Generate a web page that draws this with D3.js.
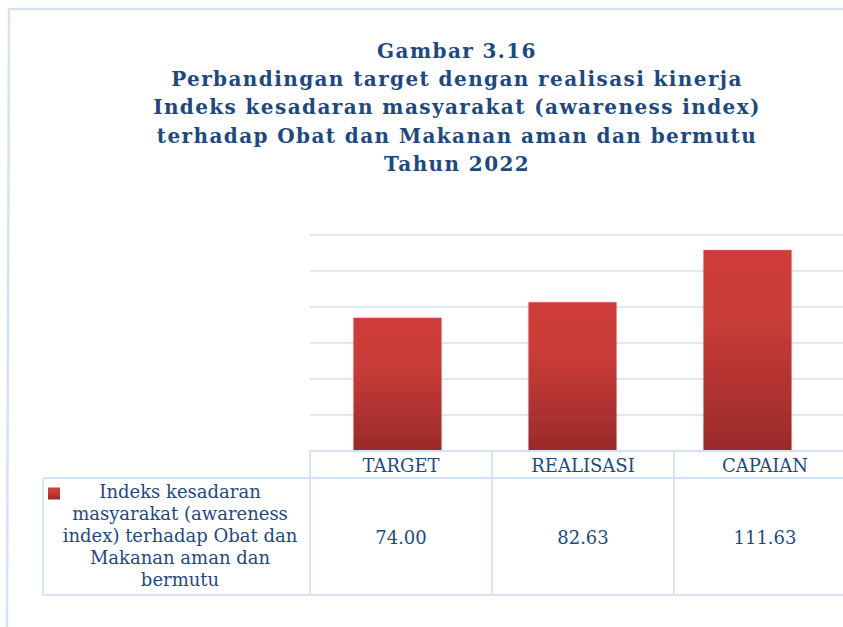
<!DOCTYPE html>
<html>
<head>
<meta charset="utf-8">
<script src="https://cdn.jsdelivr.net/npm/d3@7/dist/d3.min.js"></script>
<style>
  html, body { margin: 0; padding: 0; background: #ffffff; }
  svg { display: block; }
</style>
</head>
<body>
<script>
// ---- data ----
const titleLines = [
  "Gambar 3.16",
  "Perbandingan target dengan realisasi kinerja",
  "Indeks kesadaran masyarakat (awareness index)",
  "terhadap Obat dan Makanan aman dan bermutu",
  "Tahun 2022"
];
const categories = ["TARGET", "REALISASI", "CAPAIAN"];
const values = [74.00, 82.63, 111.63];
const valueLabels = ["74.00", "82.63", "111.63"];
const yTicks = [0, 20, 40, 60, 80, 100, 120];
const seriesLabelLines = [
  "Indeks kesadaran",
  "masyarakat (awareness",
  "index) terhadap Obat dan",
  "Makanan aman dan",
  "bermutu"
];

// ---- setup ----
const W = 843, H = 627;
const textColor = "#1F497D";
const lineColor = "#D5E2F3";
const svg = d3.select("body").append("svg").attr("width", W).attr("height", H);

const defs = svg.append("defs");
const grad = defs.append("linearGradient").attr("id", "barGrad")
  .attr("x1", 0).attr("y1", 0).attr("x2", 0).attr("y2", 1);
grad.append("stop").attr("offset", "0%").attr("stop-color", "#CF3E3A");
grad.append("stop").attr("offset", "35%").attr("stop-color", "#C93C38");
grad.append("stop").attr("offset", "100%").attr("stop-color", "#992A2A");
const shadow = defs.append("filter").attr("id", "shadow")
  .attr("x", "-10%").attr("y", "-10%").attr("width", "120%").attr("height", "120%");
shadow.append("feDropShadow").attr("dx", 0).attr("dy", 0).attr("stdDeviation", 1.3)
  .attr("flood-color", "#808080").attr("flood-opacity", 0.35);

// outer frame
svg.append("path")
  .attr("d", "M7,627 L9,9 L843,9")
  .attr("fill", "none").attr("stroke", lineColor).attr("stroke-width", 2.5);

// title
const title = svg.append("text")
  .attr("text-anchor", "middle")
  .attr("font-family", "'DejaVu Serif', serif")
  .attr("font-weight", "bold")
  .attr("font-size", 20)
  .attr("letter-spacing", 1.4)
  .attr("fill", textColor);
titleLines.forEach((t, i) => {
  title.append("tspan").attr("x", 457).attr("y", 58 + i * 28.2).text(t);
});

// scales
const x = d3.scaleBand().domain(categories).range([310, 835])
  .paddingInner(0.497).paddingOuter(0.2485);
const y = d3.scaleLinear().domain([0, 120]).range([451, 235]);
const tx = d3.scaleBand().domain(categories).range([310, 856]);

// gridlines
svg.append("g").selectAll("line")
  .data(yTicks.filter(d => d > 0))
  .join("line")
  .attr("x1", 310).attr("x2", W)
  .attr("y1", d => y(d)).attr("y2", d => y(d))
  .attr("stroke", lineColor).attr("stroke-width", 1.5);

// bars
svg.append("g").selectAll("rect")
  .data(categories.map((c, i) => ({ c, v: values[i] })))
  .join("rect")
  .attr("x", d => x(d.c))
  .attr("y", d => y(d.v))
  .attr("width", x.bandwidth())
  .attr("height", d => y(0) - y(d.v))
  .attr("fill", "url(#barGrad)")
  .attr("filter", "url(#shadow)");

// data table
const tRowTop = y(0), tRow2 = 478, tBottom = 595, tLeft = 43;
const tg = svg.append("g").attr("stroke", lineColor).attr("stroke-width", 1.8).attr("fill", "none");
tg.append("line").attr("x1", 310).attr("x2", W).attr("y1", tRowTop).attr("y2", tRowTop);
tg.append("line").attr("x1", tLeft).attr("x2", W).attr("y1", tRow2).attr("y2", tRow2);
tg.append("line").attr("x1", tLeft).attr("x2", W).attr("y1", tBottom).attr("y2", tBottom);
tg.append("line").attr("x1", tLeft).attr("x2", tLeft).attr("y1", tRow2).attr("y2", tBottom);
tg.selectAll("line.v").data(categories).join("line").attr("class", "v")
  .attr("x1", d => tx(d)).attr("x2", d => tx(d))
  .attr("y1", tRowTop).attr("y2", tBottom);

const font = "'DejaVu Serif', serif";
const fs = 18;
svg.append("g").selectAll("text")
  .data(categories).join("text")
  .attr("x", d => tx(d) + tx.bandwidth() / 2)
  .attr("y", 471.5)
  .attr("text-anchor", "middle")
  .attr("font-family", font).attr("font-size", fs)
  .attr("fill", textColor)
  .text(d => d);

svg.append("g").selectAll("text")
  .data(valueLabels).join("text")
  .attr("x", (d, i) => tx(categories[i]) + tx.bandwidth() / 2)
  .attr("y", 543.5)
  .attr("text-anchor", "middle")
  .attr("font-family", font).attr("font-size", fs)
  .attr("fill", textColor)
  .text(d => d);

// legend key
svg.append("rect").attr("x", 48).attr("y", 487.5).attr("width", 12).attr("height", 12)
  .attr("fill", "url(#barGrad)");

const lbl = svg.append("text")
  .attr("text-anchor", "middle")
  .attr("font-family", font).attr("font-size", fs)
  .attr("fill", textColor);
seriesLabelLines.forEach((t, i) => {
  lbl.append("tspan").attr("x", 180).attr("y", 498.3 + i * 21.8).text(t);
});
</script>
</body>
</html>
